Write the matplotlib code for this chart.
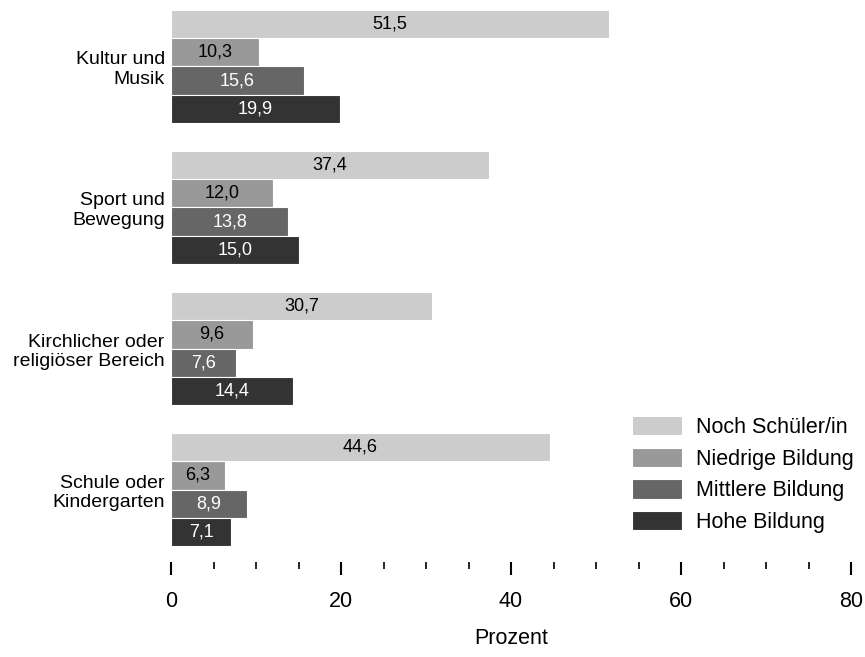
import matplotlib
matplotlib.use("Agg")
import matplotlib.pyplot as plt
import numpy as np
from matplotlib.ticker import MultipleLocator

plt.rcParams["font.family"] = ["Liberation Sans", "DejaVu Sans"]

categories = ["Kultur und\nMusik", "Sport und\nBewegung",
              "Kirchlicher oder\nreligiöser Bereich", "Schule oder\nKindergarten"]
series_names = ["Noch Schüler/in", "Niedrige Bildung", "Mittlere Bildung", "Hohe Bildung"]
noch_schueler = [51.5, 37.4, 30.7, 44.6]
niedrige = [10.3, 12.0, 9.6, 6.3]
mittlere = [15.6, 13.8, 7.6, 8.9]
hohe = [19.9, 15.0, 14.4, 7.1]

series_values = [noch_schueler, niedrige, mittlere, hohe]
colors = ["#cccccc", "#999999", "#666666", "#333333"]
text_colors = ["black", "black", "white", "white"]

W, H = 865, 657
fig = plt.figure(figsize=(W / 100, H / 100), dpi=100)
ax = fig.add_axes([171 / W, 1 - 546 / H, (851 - 171) / W, (546 - 10) / H])

group_pos = np.arange(len(categories)) * 5
for i, (name, vals) in enumerate(zip(series_names, series_values)):
    bars = ax.barh(group_pos + i, vals, height=1.0, color=colors[i],
                   edgecolor="white", linewidth=0.8, label=name)
    ax.bar_label(bars, labels=[f"{v:.1f}".replace(".", ",") for v in vals],
                 label_type="center", color=text_colors[i], fontsize=13)

ax.set_xlim(0, 80)
ax.set_ylim(18.5, -0.5)
ax.set_yticks(group_pos + 1.5)
ax.set_yticklabels(categories, fontsize=14, multialignment="right")
ax.tick_params(axis="y", length=0, pad=4.5)

# Achse abgesetzt unter den Balken, ohne Linie
ax.xaxis.set_major_locator(MultipleLocator(20))
ax.xaxis.set_minor_locator(MultipleLocator(5))
ax.spines["bottom"].set_position(("outward", 11.5))
for s in ["top", "right", "left", "bottom"]:
    ax.spines[s].set_visible(False)
ax.tick_params(axis="x", which="major", length=9.5, width=1.5, labelsize=15.5, pad=11.5)
ax.tick_params(axis="x", which="minor", length=5, width=1.2)
ax.set_xlabel("Prozent", fontsize=15.5, labelpad=11.5)

ax.legend(loc="upper left", bbox_to_anchor=(632 / W, 1 - 416 / H),
          bbox_transform=fig.transFigure, frameon=False, fontsize=15.5,
          borderpad=0, borderaxespad=0, handlelength=2.3, handleheight=1.0,
          handletextpad=0.65, labelspacing=0.45)

fig.savefig("out.png", dpi=100)
